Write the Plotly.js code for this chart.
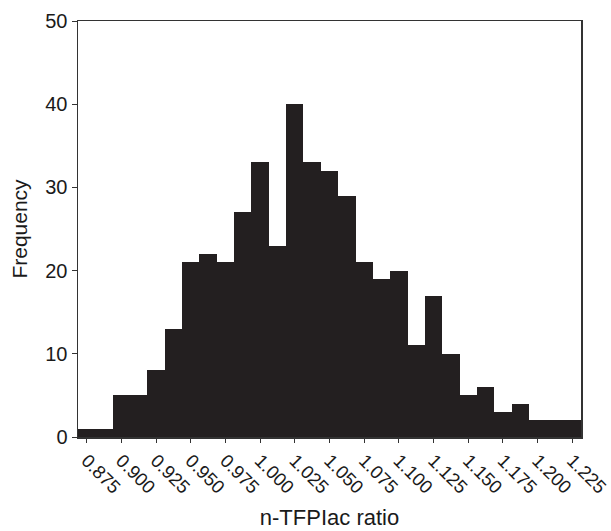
<!DOCTYPE html>
<html>
<head>
<meta charset="utf-8">
<script src="https://cdn.plot.ly/plotly-3.0.1.min.js"></script>
<style>html,body{margin:0;padding:0;background:#fff;}#chart{width:611px;height:531px;}</style>
</head>
<body>
<div id="chart"></div>
<script>
var binCenters = [0.875,0.8875,0.900,0.9125,0.925,0.9375,0.950,0.9625,0.975,0.9875,
  1.000,1.0125,1.025,1.0375,1.050,1.0625,1.075,1.0875,1.100,1.1125,
  1.125,1.1375,1.150,1.1625,1.175,1.1875,1.200,1.2125,1.225];
var frequency = [1,1,5,5,8,13,21,22,21,27,33,23,40,33,32,29,21,19,20,11,17,10,5,6,3,4,2,2,2];
var xTickVals = [0.875,0.900,0.925,0.950,0.975,1.000,1.025,1.050,1.075,1.100,1.125,1.150,1.175,1.200,1.225];
var xTickText = ['0.875','0.900','0.925','0.950','0.975','1.000','1.025','1.050','1.075','1.100','1.125','1.150','1.175','1.200','1.225'];
var yTickVals = [0,10,20,30,40,50];

var binWidth = 0.0125;
var trace = {
  type: 'bar',
  x: binCenters,
  y: frequency,
  width: binCenters.map(function(){return binWidth;}),
  marker: {color: '#231f20', line: {width: 0}},
  hoverinfo: 'x+y'
};
var font = {family: 'Liberation Sans, Arial, Helvetica, sans-serif', color: '#1a1a1a'};
var layout = {
  width: 611, height: 531,
  margin: {l: 78, r: 30, t: 21, b: 94},
  paper_bgcolor: '#fff', plot_bgcolor: '#fff',
  showlegend: false,
  bargap: 0,
  font: font,
  xaxis: {
    range: [0.86875, 1.23125],
    tickvals: xTickVals, ticktext: xTickText,
    tickangle: 45,
    ticklabeloverflow: 'allow',
    ticks: 'outside', ticklen: 4, tickwidth: 1, tickcolor: '#333',
    showline: true, linecolor: '#333', linewidth: 1.5, mirror: true,
    showgrid: false, zeroline: false,
    tickfont: {size: 18.5, family: font.family, color: '#1a1a1a'},
    title: {text: 'n-TFPIac ratio', font: {size: 22, family: font.family, color: '#1a1a1a'}, standoff: 13},
    automargin: false
  },
  yaxis: {
    range: [0, 50],
    tickvals: yTickVals,
    ticks: 'outside', ticklen: 5, tickwidth: 1, tickcolor: '#333',
    showline: true, linecolor: '#333', linewidth: 1.5, mirror: true,
    showgrid: false, zeroline: false,
    tickfont: {size: 20, family: font.family, color: '#1a1a1a'},
    title: {text: 'Frequency', font: {size: 21, family: font.family, color: '#1a1a1a'}, standoff: 12},
    automargin: false
  }
};
Plotly.newPlot('chart', [trace], layout, {displayModeBar: false, staticPlot: true});
</script>
</body>
</html>
